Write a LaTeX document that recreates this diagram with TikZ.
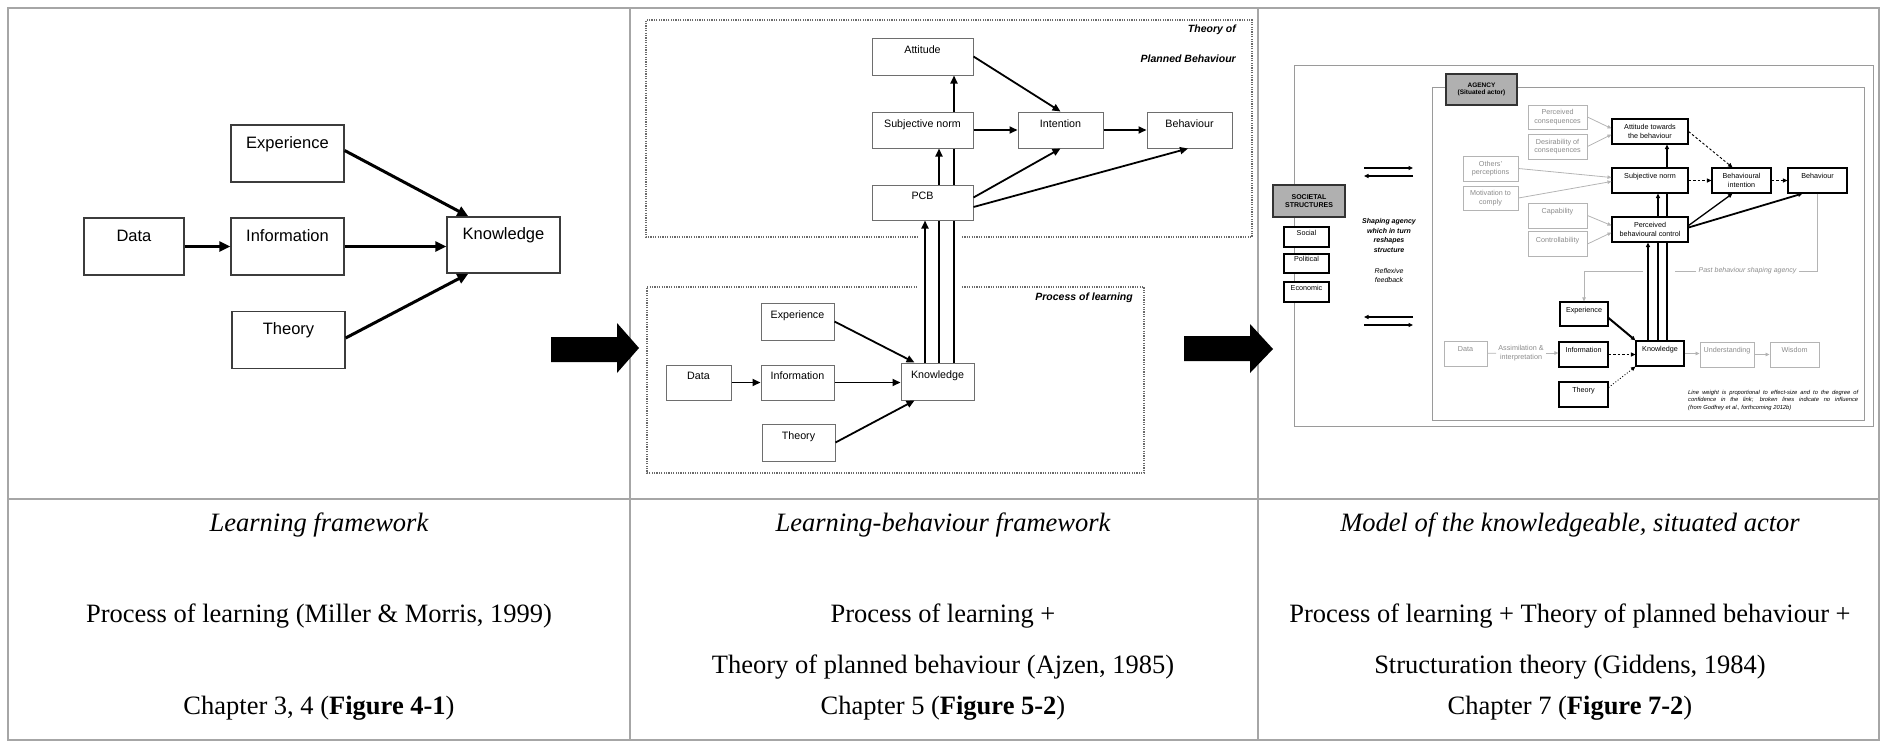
\documentclass[tikz,border=0pt]{standalone}
\usepackage{fontspec}
\setmainfont{Liberation Serif}
\setsansfont{Liberation Sans}
\usetikzlibrary{arrows.meta,backgrounds}
\definecolor{tabgray}{HTML}{A6A6A6}
\definecolor{boxgray}{HTML}{3C3C3C}
\definecolor{boxgraytwo}{HTML}{6E6E6E}
\definecolor{lightline}{HTML}{B4B4B4}
\definecolor{lighttext}{HTML}{8C8C8C}
\definecolor{fillgray}{HTML}{B0B0B0}
\definecolor{framegray}{HTML}{9A9A9A}
\definecolor{dotgray}{HTML}{6A6A6A}

\begin{document}
\begin{tikzpicture}[x=1pt,y=-1pt,
    tabline/.style={draw=tabgray, line width=1.3pt},
    captext/.style={font=\fontsize{26.5}{30}\selectfont, anchor=base},
    box1/.style={draw=boxgray, fill=white, line width=1.3pt, minimum width=113pt, minimum height=57pt, inner sep=0pt,
        font=\sffamily\fontsize{16.5}{18}\selectfont, text height=12pt, text depth=23pt},
    box2/.style={draw=boxgraytwo, fill=white, line width=1pt, minimum width=73pt, minimum height=37pt, inner sep=0pt,
        font=\sffamily\fontsize{10.7}{12}\selectfont, text height=8pt, text depth=14pt},
    b3/.style={draw=black, fill=white, line width=1.1pt, inner sep=0pt, font=\sffamily\fontsize{7.2}{8.4}\selectfont},
    box3/.style={b3, text height=5.5pt, text depth=9.5pt},
    box3m/.style={b3, align=center},
    lbox3/.style={box3, draw=lightline, line width=0.9pt, text=lighttext},
    lbox3m/.style={box3m, draw=lightline, line width=0.9pt, text=lighttext},
    gbox3/.style={b3, fill=fillgray, draw=black!80, align=center, font=\sffamily\bfseries\fontsize{6.5}{7.6}\selectfont},
    frame3/.style={draw=framegray, line width=1pt},
    dots2/.style={draw=dotgray, line width=1.4pt, dash pattern=on 1.2pt off 1.2pt},
    arr1/.style={line width=3pt, -{Triangle[length=11pt,width=10pt]}},
    arr2/.style={line width=1.8pt, -{Triangle[length=8pt,width=7pt]}},
    arr3/.style={line width=1.1pt, -{Triangle[length=4.5pt,width=4pt]}},
    darr3/.style={arr3, line width=0.9pt, dash pattern=on 2.5pt off 2pt},
    lline3/.style={draw=lightline, line width=0.8pt},
    larr3/.style={lline3, -{Triangle[length=4pt,width=3.5pt]}}]

    \useasboundingbox (0,0) rectangle (1881,742);

    \draw[tabline] (8,8) rectangle (1879,740);
    \draw[tabline] (630,8) -- (630,740);
    \draw[tabline] (1258,8) -- (1258,740);
    \draw[tabline] (8,499) -- (1879,499);

    % learning framework
    \node[box1] (exp1) at (287.5,153.5) {Experience};
    \node[box1, minimum width=100pt] (data1) at (134,246.5) {Data};
    \node[box1] (info1) at (287.5,246.5) {Information};
    \node[box1, minimum height=56pt] (know1) at (503.5,245) {Knowledge};
    \node[box1] (theo1) at (288.5,340) {Theory};

    \draw[arr1] ([yshift=3pt]exp1.east) -- ([xshift=22pt]know1.north west);
    \draw[arr1] (data1) -- (info1);
    \draw[arr1] (info1.east) -- (info1.east -| know1.west);
    \draw[arr1] ([yshift=2pt]theo1.east) -- ([xshift=22pt]know1.south west);

    \fill (551,337) -- (617,337) -- (617,323) -- (639,348) -- (617,373) -- (617,362) -- (551,362) -- cycle;

    % learning-behaviour framework
    \draw[dots2] (962,237) -- (1252,237) -- (1252,20) -- (646,20) -- (646,237) -- (917,237);
    \draw[dots2] (962,287) -- (1144,287) -- (1144,473) -- (647,473) -- (647,287) -- (917,287);
    \node[font=\sffamily\bfseries\itshape\fontsize{10.5}{30}\selectfont, align=right, anchor=north east, inner sep=0pt] (tpb)
        at (1236,25) {Theory of\\Planned Behaviour};
    \node[font=\sffamily\bfseries\itshape\fontsize{10.5}{12}\selectfont, anchor=east, inner sep=0pt] (pol)
        at (1133,298) {Process of learning};

    \node[box2, minimum width=101pt] (att2) at (922.5,56.5) {Attitude};
    \node[box2, minimum width=101pt, minimum height=36pt] (sn2) at (922.5,130) {Subjective norm};
    \node[box2, minimum width=101pt, minimum height=35pt] (pcb2) at (922.5,202.5) {PCB};
    \node[box2, minimum width=85pt, minimum height=36pt] (int2) at (1060.5,130) {Intention};
    \node[box2, minimum width=85pt, minimum height=36pt] (beh2) at (1189.5,130) {Behaviour};
    \node[box2] (exp2) at (797.5,321.5) {Experience};
    \node[box2, minimum width=65pt, minimum height=35pt] (data2) at (698.5,382.5) {Data};
    \node[box2, minimum height=35pt] (info2) at (797.5,382.5) {Information};
    \node[box2] (know2) at (937.5,381.5) {Knowledge};
    \node[box2] (theo2) at (798.5,442.5) {Theory};

    \begin{pgfonlayer}{background}
        \draw[arr2] ([xshift=-12.5pt]know2.north) -- ([xshift=-12.5pt]know2.north |- pcb2.south);
        \draw[arr2] ([xshift=1.5pt]know2.north) -- ([xshift=1.5pt]know2.north |- sn2.south);
        \draw[arr2] ([xshift=16.5pt]know2.north) -- ([xshift=16.5pt]know2.north |- att2.south);
    \end{pgfonlayer}
    \draw[arr2] (att2.east) -- (int2.north);
    \draw[arr2] (sn2) -- (int2);
    \draw[arr2] (int2) -- (beh2);
    \draw[arr2] ([yshift=5pt]pcb2.east) -- (int2.south);
    \draw[arr2] ([yshift=-4.5pt]pcb2.east) -- ([xshift=-1.5pt]beh2.south);
    \draw[arr2] (data2) -- (info2);
    \draw[arr2] (info2.east) -- (info2.east -| know2.west);
    \draw[arr2] (exp2.east) -- ([xshift=14pt]know2.north west);
    \draw[arr2] (theo2.east) -- ([xshift=14pt]know2.south west);

    \fill (1184,336) -- (1250,336) -- (1250,324) -- (1273,349) -- (1250,373) -- (1250,361) -- (1184,361) -- cycle;

    % knowledgeable, situated actor
    \draw[frame3] (1294,65) rectangle (1873,426);
    \draw[frame3] (1432,87) rectangle (1864,420);

    \node[gbox3, minimum width=71pt, minimum height=31pt] (agency) at (1481.5,89.5) {AGENCY\\(Situated actor)};
    \node[gbox3, minimum width=72pt, minimum height=32pt, font=\sffamily\bfseries\fontsize{7}{8.4}\selectfont]
        (societal) at (1309,201) {SOCIETAL\\STRUCTURES};
    \node[box3, minimum width=45pt, minimum height=20pt] (social) at (1306.5,237) {Social};
    \node[box3, minimum width=45pt, minimum height=19pt] (political) at (1306.5,263.5) {Political};
    \node[box3, minimum width=45pt, minimum height=20pt] (economic) at (1306.5,292) {Economic};

    \node[font=\sffamily\bfseries\itshape\fontsize{7}{9.6}\selectfont, align=center] (shaping)
        at (1389,235.5) {Shaping agency\\which in turn\\reshapes\\structure};
    \node[font=\sffamily\itshape\fontsize{7}{9}\selectfont, align=center] (reflex)
        at (1389,275.5) {Reflexive\\feedback};

    \coordinate (sl1) at (1364,168); \coordinate (sr1) at (1413,168);
    \coordinate (sl2) at (1364,176); \coordinate (sr2) at (1413,176);
    \coordinate (sl3) at (1364,317); \coordinate (sr3) at (1413,317);
    \coordinate (sl4) at (1364,325); \coordinate (sr4) at (1413,325);
    \draw[arr3] (sl1) -- (sr1);
    \draw[arr3] (sr2) -- (sl2);
    \draw[arr3] (sr3) -- (sl3);
    \draw[arr3] (sl4) -- (sr4);

    \node[lbox3m, minimum width=59pt, minimum height=24pt] (pcons) at (1557.5,117) {Perceived\\consequences};
    \node[lbox3m, minimum width=59pt, minimum height=25pt] (dcons) at (1557.5,146.5) {Desirability of\\consequences};
    \node[lbox3m, minimum width=55pt, minimum height=25pt] (others) at (1490.5,168.5) {Others'\\perceptions};
    \node[lbox3m, minimum width=55pt, minimum height=24pt] (motiv) at (1490.5,198) {Motivation to\\comply};
    \node[lbox3, minimum width=59pt, minimum height=25pt] (capab) at (1557.5,215.5) {Capability};
    \node[lbox3, minimum width=59pt, minimum height=25pt] (contr) at (1557.5,244) {Controllability};

    \node[box3m, minimum width=76pt, minimum height=25pt] (att3) at (1650,131.5) {Attitude towards\\the behaviour};
    \node[box3, minimum width=76pt, minimum height=25pt] (sn3) at (1650,180.5) {Subjective norm};
    \node[box3m, minimum width=59pt, minimum height=25pt] (bi3) at (1741.5,180.5) {Behavioural\\intention};
    \node[box3, minimum width=59pt, minimum height=25pt] (beh3) at (1817.5,180.5) {Behaviour};
    \node[box3m, minimum width=76pt, minimum height=25pt] (pbc3) at (1650,229.5) {Perceived\\behavioural control};

    \node[box3, minimum width=48pt, minimum height=24pt] (exp3) at (1584,314) {Experience};
    \node[box3, minimum width=49pt, minimum height=25pt] (info3) at (1583.5,354.5) {Information};
    \node[box3, minimum width=49pt, minimum height=25pt] (theo3) at (1583.5,394.5) {Theory};
    \node[box3, minimum width=48pt, minimum height=25pt] (know3) at (1660,353.5) {Knowledge};
    \node[lbox3, minimum width=43pt, minimum height=25pt] (data3) at (1465.5,353.5) {Data};
    \node[lbox3, minimum width=54pt, minimum height=25pt] (und3) at (1727,354.5) {Understanding};
    \node[lbox3, minimum width=49pt, minimum height=25pt] (wis3) at (1794.5,354.5) {Wisdom};
    \node[font=\sffamily\fontsize{7.2}{8.4}\selectfont, text=lighttext, align=center, inner sep=2pt] (assim)
        at (1521,353) {Assimilation \&\\interpretation};

    \node[font=\sffamily\itshape\fontsize{7}{8}\selectfont, text=lighttext, inner sep=2pt] (past)
        at (1747.5,271) {Past behaviour shaping agency};
    \coordinate (gapr) at (1675,271);
    \coordinate (gapl) at (1643,271);

    \node[font=\sffamily\itshape\fontsize{5.8}{7.5}\selectfont, align=left, inner sep=0pt, anchor=north west] (note)
        at (1688,390) {\makebox[170pt][s]{Line weight is proportional to effect-size and to the degree of}\\
        \makebox[170pt][s]{confidence in the link; broken lines indicate no influence}\\
        (from Godfrey et al., forthcoming 2012b)};

    \begin{pgfonlayer}{background}
        \draw[arr3, line width=2pt] ([xshift=-12pt]know3.north) -- ([xshift=-12pt]know3.north |- pbc3.south);
        \draw[arr3, line width=1.8pt] ([xshift=-2pt]know3.north) -- ([xshift=-2pt]know3.north |- sn3.south);
        \draw[arr3, line width=1.8pt] ([xshift=7pt]know3.north) -- ([xshift=7pt]know3.north |- att3.south);
    \end{pgfonlayer}

    \draw[larr3] (pcons.east) -- ([yshift=3pt]att3.west);
    \draw[larr3] (dcons.east) -- ([yshift=-3pt]att3.west);
    \draw[larr3] (others.east) -- ([yshift=3pt]sn3.west);
    \draw[larr3] (motiv.east) -- ([yshift=-1pt]sn3.west);
    \draw[larr3] (capab.east) -- ([yshift=4pt]pbc3.west);
    \draw[larr3] (contr.east) -- ([yshift=-3pt]pbc3.west);

    \draw[darr3] (att3.east) -- ([xshift=-9pt]bi3.north);
    \draw[darr3] (sn3) -- (bi3);
    \draw[darr3] (bi3) -- (beh3);
    \draw[arr3, line width=1.3pt] ([yshift=4pt]pbc3.east) -- ([xshift=-9pt]bi3.south);
    \draw[arr3, line width=1.8pt] ([yshift=2pt]pbc3.east) -- ([xshift=-15pt]beh3.south);

    \draw[arr3, line width=2pt] ([yshift=-4pt]exp3.east) -- (know3.north west);
    \draw[darr3] (info3.east) -- (info3.east -| know3.west);
    \draw[arr3, line width=0.9pt, dotted] ([yshift=7pt]theo3.east) -- (know3.south west);
    \draw[larr3] (know3.east) -- (know3.east -| und3.west);
    \draw[larr3] (und3) -- (wis3);
    \draw[lline3] (data3) -- (assim);
    \draw[larr3] (assim) -- (info3.west |- assim);

    \draw[lline3] (beh3.south) |- (past.east);
    \draw[lline3] (past.west) -- (gapr);
    \draw[larr3] (gapl) -| (exp3.north);

    % captions
    \node[captext] (t1) at (319,531.5) {\itshape Learning framework};
    \node[captext] (s1) at (319,622.5) {Process of learning (Miller \& Morris, 1999)};
    \node[captext] (f1) at (319,714.5) {Chapter 3, 4 (\textbf{Figure 4-1})};
    \node[captext] (t2) at (943,531.5) {\itshape Learning-behaviour framework};
    \node[captext] (s2) at (943,622.5) {Process of learning +};
    \node[captext] (r2) at (943,673.5) {Theory of planned behaviour (Ajzen, 1985)};
    \node[captext] (f2) at (943,714.5) {Chapter 5 (\textbf{Figure 5-2})};
    \node[captext] (t3) at (1570,531.5) {\itshape Model of the knowledgeable, situated actor};
    \node[captext] (s3) at (1570,622.5) {Process of learning + Theory of planned behaviour +};
    \node[captext] (r3) at (1570,673.5) {Structuration theory (Giddens, 1984)};
    \node[captext] (f3) at (1570,714.5) {Chapter 7 (\textbf{Figure 7-2})};

\end{tikzpicture}
\end{document}
